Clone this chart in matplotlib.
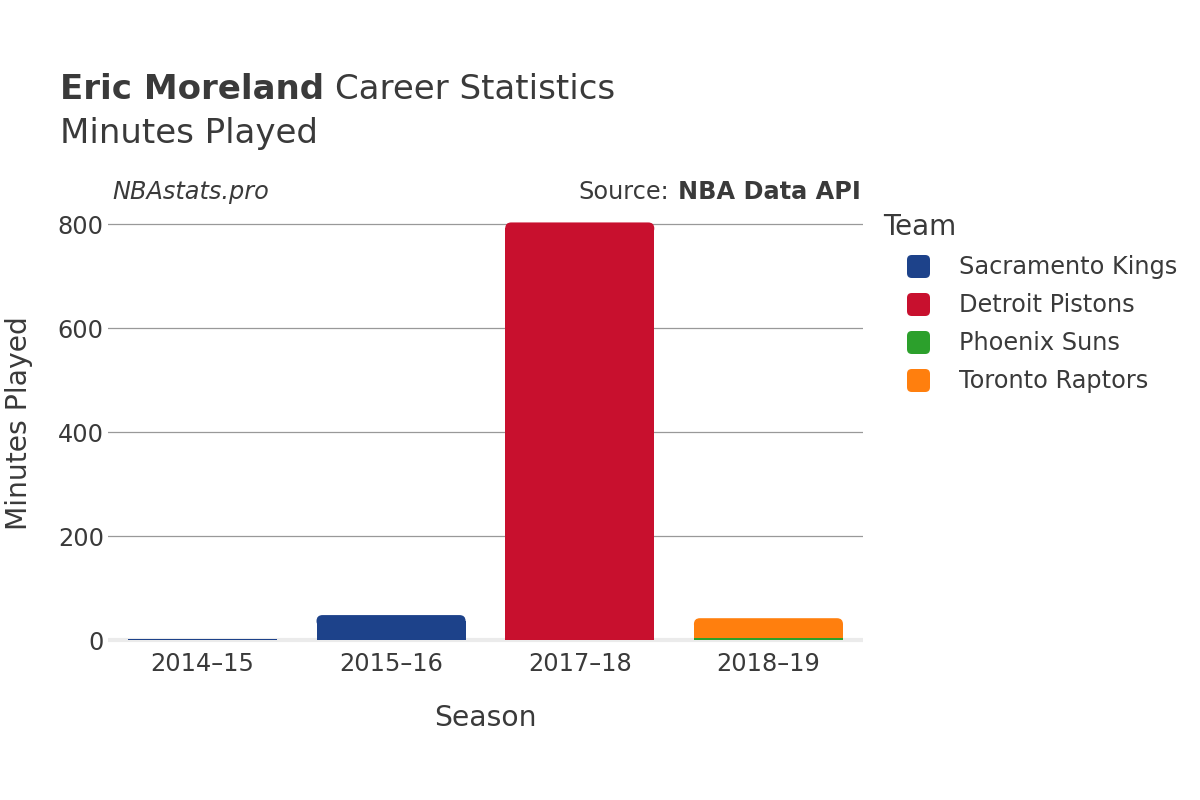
import matplotlib
matplotlib.use('Agg')
from matplotlib import pyplot as plt
from matplotlib.patches import FancyBboxPatch
import numpy as np

seasons = ['2014–15', '2015–16', '2017–18', '2018–19']
teams = ['Sacramento Kings', 'Detroit Pistons', 'Phoenix Suns', 'Toronto Raptors']
team_colors = ['#1d428a', '#c8102e', '#2ca02c', '#ff7f0e']

# minutes per season for each team (stacked, in this order)
kings = [2, 48, 0, 0]
pistons = [0, 0, 803, 0]
suns = [0, 0, 0, 4]
raptors = [0, 0, 0, 38]
series = [kings, pistons, suns, raptors]

yticks = [0, 200, 400, 600, 800]

plt.rcParams['font.family'] = ['DejaVu Sans']
text_col = '#3a3a3a'

fig = plt.figure(figsize=(12, 8), dpi=100)
ax = fig.add_axes([0.09, 0.1967, 0.629, 0.5493])
ax.set_ylim(-5, 840)
ax.set_xlim(-0.5, 3.5)

# corner radius, pixels -> data units
px_x = 0.629 * 1200 / 4.0
px_y = 0.5493 * 800 / 845.0
r_x = 6 / px_x
r_y = 6 / px_y

x = np.arange(len(seasons))
bottom = np.zeros(len(seasons))
totals = np.sum(np.array(series, dtype=float), axis=0)
for vals, col in zip(series, team_colors):
    vals = np.array(vals, dtype=float)
    bars = ax.bar(x, vals, width=0.79, bottom=bottom, color=col, zorder=3)
    for i, rect in enumerate(bars):
        h = vals[i]
        top = bottom[i] + h
        # round the top corners of the top segment only
        if h > 2 * r_y and np.isclose(top, totals[i]):
            rect.set_height(h - r_y)
            ax.add_patch(FancyBboxPatch((rect.get_x(), top - 2 * r_y), rect.get_width(), 2 * r_y,
                                        boxstyle=f'round,pad=0,rounding_size={r_x}',
                                        mutation_aspect=r_y / r_x, facecolor=col,
                                        edgecolor='none', zorder=3))
    bottom += vals

ax.set_yticks(yticks)
ax.set_xticks(x)
ax.set_xticklabels(seasons)
ax.grid(axis='y', color='#999999', linewidth=0.9, zorder=0)
ax.axhline(0, color='#ebebeb', linewidth=3, zorder=2)
for s in ax.spines.values():
    s.set_visible(False)
ax.tick_params(axis='both', length=0, labelsize=17.3, labelcolor=text_col)
ax.tick_params(axis='x', pad=7)
ax.tick_params(axis='y', pad=3)

ax.set_xlabel('Season', fontsize=20.3, color=text_col, labelpad=20)
ax.set_ylabel('Minutes Played', fontsize=20.3, color=text_col, labelpad=18)

t1 = fig.text(0.05, 0.888, 'Eric Moreland', fontsize=24.5, fontweight='bold', color=text_col, va='center')
fig.text(0.05, 0.833, 'Minutes Played', fontsize=24.5, color=text_col, va='center')
fig.canvas.draw()
b1 = t1.get_window_extent()
fig.text(b1.x1 / 1200 + 0.009, 0.888, 'Career Statistics', fontsize=24.5, color=text_col, va='center')

fig.text(0.094, 0.76, 'NBAstats.pro', fontsize=17.3, style='italic', color=text_col, va='center')
src = fig.text(0.717, 0.76, 'NBA Data API', fontsize=17.3, fontweight='bold', color=text_col,
               va='center', ha='right')
fig.canvas.draw()
bb = src.get_window_extent()
fig.text(bb.x0 / 1200 - 0.007, 0.76, 'Source:', fontsize=17.3, color=text_col, va='center', ha='right')

# legend drawn by hand
fig.text(883 / 1200, 1 - 227 / 800, 'Team', fontsize=20, color=text_col, va='center')
for k, (name, col) in enumerate(zip(teams, team_colors)):
    yc = 267 + 38 * k
    fig.patches.append(FancyBboxPatch((907 / 1200, 1 - (yc + 11) / 800), 23 / 1200, 23 / 800,
                                      boxstyle='round,pad=0,rounding_size=0.004',
                                      mutation_aspect=1.5, facecolor=col, edgecolor='none',
                                      transform=fig.transFigure, figure=fig))
    fig.text(959 / 1200, 1 - yc / 800, name, fontsize=17.3, color=text_col, va='center')

fig.savefig('out.png', dpi=100)
